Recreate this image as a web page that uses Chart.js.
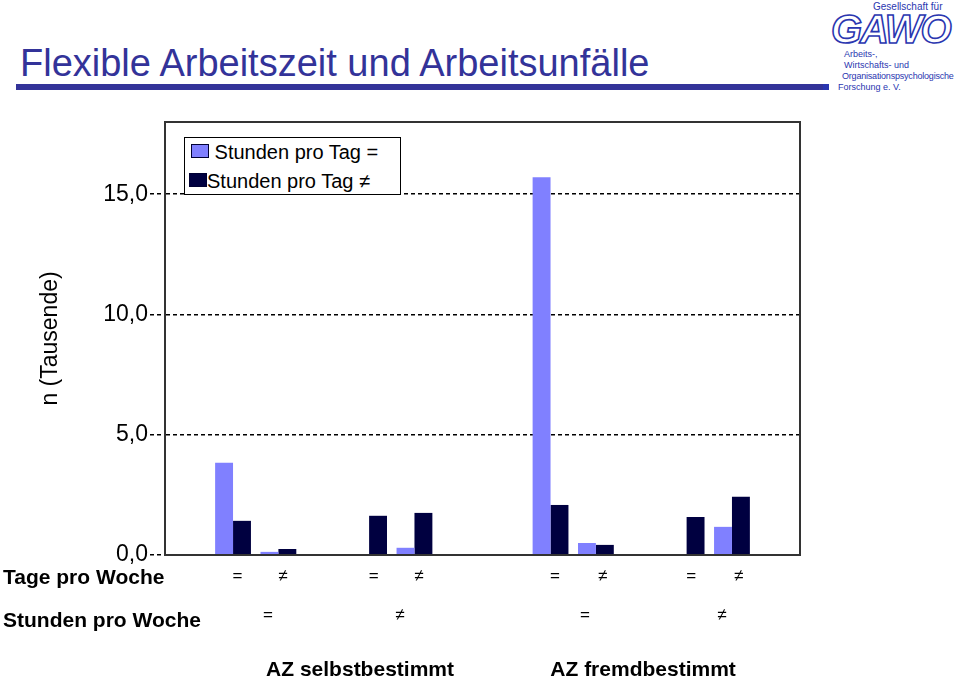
<!DOCTYPE html>
<html lang="de">
<head>
  <meta charset="UTF-8" />
  <title>Flexible Arbeitszeit und Arbeitsunfälle</title>
  <script src="https://cdn.jsdelivr.net/npm/chart.js"></script>
  <style>
    body { margin: 0; width: 960px; height: 681px; position: relative; background: #fff; overflow: hidden;
           font-family: "Liberation Sans", Arial, sans-serif; }
    #chart-wrap { position: absolute; left: 0; top: 0; width: 960px; height: 681px; }
    h1 { position: absolute; left: 20px; top: 44px; margin: 0; font-size: 38px; line-height: 1;
         font-weight: normal; color: #333399; white-space: nowrap; }
    .rule { position: absolute; left: 16px; top: 84px; width: 808px; height: 6px; background: #333399; }
    #legend { position: absolute; left: 184px; top: 137px; width: 215px; height: 56px; background: #fff;
              border: 1px solid #000; font-size: 20px; }
    #legend div { position: absolute; white-space: nowrap; line-height: 1; }
    #legend span.box { display: inline-block; width: 16px; height: 12px; vertical-align: 1px; border: 1px solid #000033; }
    .logo { position: absolute; color: #2a36b0; white-space: nowrap; line-height: 1; font-size: 9px; }
    .gawo { left: 831px; top: 9px; font-size: 40px; font-weight: bold; font-style: italic; color: #fff;
            -webkit-text-stroke: 1.6px #2a36b0; letter-spacing: -2px; }
  </style>
</head>
<body>
  <h1>Flexible Arbeitszeit und Arbeitsunfälle</h1>
  <div class="rule"></div>
  <div class="logo" style="left:873px;top:2px;font-size:10px;">Gesellschaft für</div>
  <div class="logo gawo">GAWO</div>
  <div class="logo" style="left:844px;top:50px;">Arbeits-,</div>
  <div class="logo" style="left:844px;top:61px;">Wirtschafts- und</div>
  <div class="logo" style="left:842px;top:72px;letter-spacing:-0.2px;">Organisationspsychologische</div>
  <div class="logo" style="left:838px;top:83px;">Forschung e. V.</div>
  <div class="logo" style="left:823px;top:84px;width:6px;height:6px;background:#2a36b0;"></div>

  <div id="chart-wrap"><canvas id="chart" width="960" height="681"></canvas></div>
  <div id="legend"></div>

  <script>
    // slots on the x axis (blank slots give the gaps between groups)
    const tageProWoche = ["", "=", "≠", "", "=", "≠", "", "", "=", "≠", "", "=", "≠", ""];
    const stundenTagGleich   = [null, 3.83, 0.13, null, 0, 0.30, null, null, 15.7, 0.50, null, 0, 1.17, null];
    const stundenTagUngleich = [null, 1.42, 0.25, null, 1.63, 1.75, null, null, 2.08, 0.42, null, 1.58, 2.42, null];
    const seriesNames = ["Stunden pro Tag =", "Stunden pro Tag ≠"];
    const seriesColors = ["#8080ff", "#000040"];
    const stundenProWoche = ["=", "≠", "=", "≠"];
    const azGruppen = ["AZ selbstbestimmt", "AZ fremdbestimmt"];
    const rowNames = ["Tage pro Woche", "Stunden pro Woche"];
    const yTicks = [0, 5, 10, 15];

    const FONT = '"Liberation Sans", Arial, sans-serif';
    const tagePos = [1.1, 2.1, 4.1, 5.1, 8.1, 9.15, 11.1, 12.15];
    const stundenPos = [1.77, 4.68, 8.76, 11.78];
    const azPos = [3.8, 10.04];

    const extraLabels = {
      id: "extraLabels",
      afterDraw(chart) {
        const { ctx, chartArea: a } = chart;
        const x = chart.scales.x;
        ctx.save();
        ctx.strokeStyle = "#333";
        ctx.lineWidth = 2;
        ctx.strokeRect(a.left, a.top, a.right - a.left, a.bottom - a.top);
        ctx.fillStyle = "#000";
        ctx.textBaseline = "middle";
        ctx.textAlign = "left";
        ctx.font = "bold 21px " + FONT;
        ctx.fillText(rowNames[0], 3, 578);
        ctx.fillText(rowNames[1], 3, 621);
        ctx.textAlign = "center";
        ctx.font = "17px " + FONT;
        tageProWoche.filter(s => s).forEach((s, i) => ctx.fillText(s, x.getPixelForValue(tagePos[i]), 576));
        stundenProWoche.forEach((s, i) => ctx.fillText(s, x.getPixelForValue(stundenPos[i]), 615));
        ctx.font = "bold 21px " + FONT;
        azGruppen.forEach((g, i) => ctx.fillText(g, x.getPixelForValue(azPos[i]), 670));
        ctx.restore();
      }
    };

    new Chart(document.getElementById("chart"), {
      type: "bar",
      data: {
        labels: tageProWoche,
        datasets: [
          { label: seriesNames[0], data: stundenTagGleich, backgroundColor: seriesColors[0], borderWidth: 0 },
          { label: seriesNames[1], data: stundenTagUngleich, backgroundColor: seriesColors[1], borderWidth: 0 }
        ]
      },
      options: {
        responsive: false,
        animation: false,
        categoryPercentage: 0.79,
        barPercentage: 1.0,
        layout: { padding: { left: 0, right: 160, top: 122, bottom: 0 } },
        plugins: { legend: { display: false }, tooltip: { enabled: false } },
        scales: {
          x: {
            grid: { display: false, drawTicks: false },
            border: { display: true, color: "#333", width: 2 },
            ticks: { display: false },
            afterFit(scale) { scale.height = 126; }
          },
          y: {
            min: 0,
            max: 18,
            afterBuildTicks(scale) { scale.ticks = yTicks.map(v => ({ value: v })); },
            ticks: {
              color: "#000",
              font: { size: 23, family: FONT },
              padding: 2,
              callback: v => v.toFixed(1).replace(".", ",")
            },
            grid: { color: "#000", lineWidth: 1.5, tickLength: 15, tickBorderDash: [4, 3], tickColor: "#000" },
            border: { display: true, color: "#333", width: 2, dash: [4, 3] },
            title: { display: true, text: "n (Tausende)", color: "#000", font: { size: 23, family: FONT }, padding: { top: 37, bottom: 0 } },
            afterFit(scale) { scale.width = 165; }
          }
        }
      },
      plugins: [extraLabels]
    });

    // legend box built from the series names
    const legend = document.getElementById("legend");
    legend.innerHTML =
      '<div style="left:6px;top:4px;"><span class="box" style="background:' + seriesColors[0] + ';"></span> ' + seriesNames[0] + '</div>' +
      '<div style="left:4px;top:33px;"><span class="box" style="background:' + seriesColors[1] + ';"></span>' + seriesNames[1] + '</div>';
  </script>
</body>
</html>
